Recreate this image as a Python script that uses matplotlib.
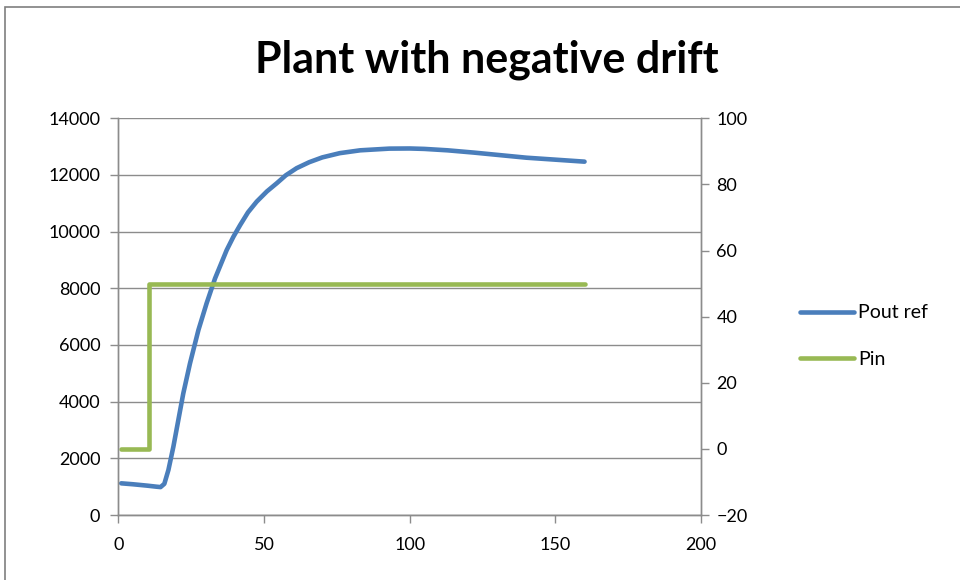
import matplotlib
matplotlib.use('Agg')
import matplotlib.pyplot as plt
from matplotlib.patches import Rectangle

# values
t_pout = [1, 5, 10, 13, 14.5, 15.8, 17.2, 18.9, 20.6, 22.3, 24.6, 27.5, 30.3, 33.2, 37.2,
          39.5, 41.8, 44.5, 47.5, 51, 54.4, 57.5, 61.2, 65.5, 70, 76, 83, 93, 100, 105, 113,
          122, 131, 140, 150, 160]
pout_ref = [1118, 1085, 1035, 1000, 985, 1100, 1590, 2410, 3350, 4290, 5350, 6530, 7470, 8350, 9350,
            9820, 10230, 10680, 11060, 11420, 11710, 11990, 12240, 12450, 12620, 12770, 12870,
            12930, 12935, 12920, 12870, 12790, 12700, 12610, 12540, 12470]

t_pin = [1, 10.6, 10.6, 160]
pin = [0, 0, 50, 50]

blue = '#4A7EBB'
green = '#98B954'
grey = '#8C8C8C'

plt.rcParams['font.family'] = ['Lato', 'DejaVu Sans']

fig = plt.figure(figsize=(9.6, 5.8), dpi=100)
# chart area border (cropped at right/bottom like the reference)
fig.patches.append(Rectangle((5 / 960, -0.05), 1.2, 1 - 7 / 580 + 0.05,
                             transform=fig.transFigure, fill=False,
                             edgecolor='#7F7F7F', linewidth=1.2))

ax = fig.add_axes([118.3 / 960, 1 - 515 / 580, (701.1 - 118.3) / 960, (515 - 118.3) / 580])
ax2 = ax.twinx()

l1, = ax.plot(t_pout, pout_ref, color=blue, linewidth=3.3, solid_capstyle='round',
              solid_joinstyle='round', label='Pout ref')
l2, = ax2.plot(t_pin, pin, color=green, linewidth=3.3, solid_capstyle='round',
               solid_joinstyle='round', label='Pin')

ax.set_xlim(0, 200)
ax.set_ylim(0, 14000)
ax2.set_ylim(-20, 100)
ax.set_xticks(range(0, 201, 50))
ax.set_yticks(range(0, 14001, 2000))
ax2.set_yticks(range(-20, 101, 20))

ax.grid(axis='y', color=grey, linewidth=1)
ax.set_axisbelow(True)

for a in (ax, ax2):
    a.spines['top'].set_visible(False)
    for s in ('left', 'right', 'bottom'):
        a.spines[s].set_color(grey)
        a.spines[s].set_linewidth(1)
    a.tick_params(colors=grey, length=6, width=1, labelsize=13, labelcolor='black')
ax.tick_params(axis='y', pad=7)
ax2.tick_params(axis='y', pad=5)
ax.tick_params(axis='x', pad=10)

fig.text(487 / 960, 1 - 72 / 580, 'Plant with negative drift', ha='center', va='baseline',
         fontsize=31, fontweight='bold')

fig.legend([l1, l2], ['Pout ref', 'Pin'], loc='upper left',
           bbox_to_anchor=(782 / 960, 1 - 287 / 580), frameon=False,
           fontsize=14, handlelength=2.8, handletextpad=0.2, labelspacing=1.5)

fig.savefig('out.png', dpi=100)
